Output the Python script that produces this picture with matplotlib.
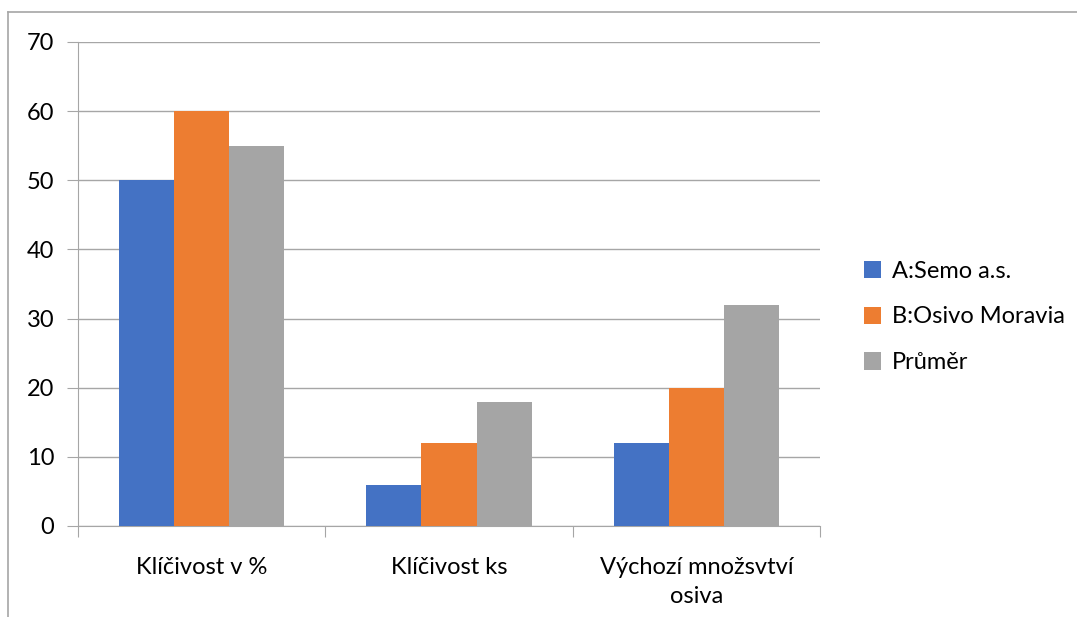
import numpy as np
import matplotlib
matplotlib.use("Agg")
import matplotlib.pyplot as plt
from matplotlib.lines import Line2D

plt.rcParams['font.family'] = ['Lato', 'DejaVu Sans']

categories = ["Klíčivost v %", "Klíčivost ks", "Výchozí množsvtví\nosiva"]
series_names = ["A:Semo a.s.", "B:Osivo Moravia", "Průměr"]
semo = [50, 6, 12]
osivo = [60, 12, 20]
prumer = [55, 18, 32]
colors = ["#4472C4", "#ED7D31", "#A5A5A5"]

W, H = 1077, 617
fig = plt.figure(figsize=(W / 100, H / 100), dpi=100)
ax = fig.add_axes([78 / W, 1 - 526 / H, (820 - 78) / W, (526 - 42) / H])

# outer chart border (cut off at right and bottom)
fig.add_artist(Line2D([8 / W, 1], [1 - 12 / H, 1 - 12 / H], color="#a6a6a6", lw=1.2, transform=fig.transFigure))
fig.add_artist(Line2D([8 / W, 8 / W], [0, 1 - 12 / H], color="#a6a6a6", lw=1.2, transform=fig.transFigure))

x = np.arange(len(categories))
bw = 55 / 247
for i, (vals, name) in enumerate(zip([semo, osivo, prumer], series_names)):
    ax.bar(x + (i - 1) * bw, vals, bw, color=colors[i], label=name, zorder=3)

ax.set_xlim(-0.5, 2.5)
ax.set_ylim(0, 70)
ax.set_yticks(range(0, 71, 10))
ax.yaxis.grid(True, color="#a6a6a6", lw=1.0, zorder=0)
for s in ["top", "right"]:
    ax.spines[s].set_visible(False)
for s in ["left", "bottom"]:
    ax.spines[s].set_color("#a6a6a6")
ax.tick_params(axis="y", length=8, color="#a6a6a6", labelsize=17, pad=9)
ax.set_xticks([-0.5, 0.5, 1.5, 2.5], minor=False)
ax.set_xticklabels([])
ax.tick_params(axis="x", length=8, color="#a6a6a6")
ax.set_xticks(x, minor=True)
ax.set_xticklabels(categories, minor=True, fontsize=17, linespacing=1.5)
ax.tick_params(axis="x", which="minor", length=0, pad=22)

ax.legend(loc="center left", bbox_to_anchor=(1.03, 0.432), frameon=False, fontsize=17,
          handlelength=0.75, handleheight=0.75, handletextpad=0.45, labelspacing=1.05)

fig.savefig("out.png", dpi=100)
